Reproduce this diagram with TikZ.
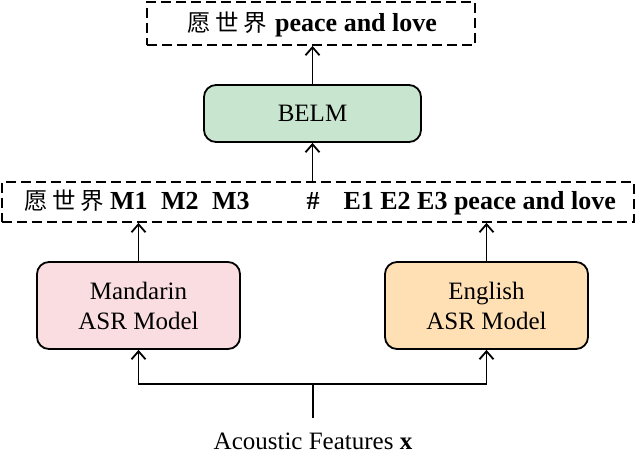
\documentclass[tikz,border=0pt]{standalone}
\usepackage{fontspec}
\setmainfont{Liberation Serif}
\newfontfamily\cjk{Noto Sans CJK SC}
\usetikzlibrary{arrows.meta}
\definecolor{pinkfill}{RGB}{250,221,225}
\definecolor{orangefill}{RGB}{255,224,180}
\definecolor{greenfill}{RGB}{200,230,207}
\tikzset{
  model/.style={draw=black, line width=1.8pt, rounded corners=12pt, align=center, inner sep=0pt, font=\fontsize{25}{30}\selectfont},
  dbox/.style={draw=black, line width=1.8pt, dash pattern=on 10pt off 5pt, inner sep=0pt},
  conn/.style={line width=1.8pt},
  arr/.style={line width=1.8pt, -{Straight Barb[length=8pt,width=14pt,line width=1.8pt]}},
  txt/.style={inner sep=0pt, anchor=base west, font=\fontsize{26}{30}\selectfont\bfseries},
  cj/.style={inner sep=0pt, anchor=base west, font=\fontsize{23.5}{30}\selectfont\cjk}
}
\begin{document}
\begin{tikzpicture}[x=1pt,y=-1pt]
\useasboundingbox (0,0) rectangle (637,464);
% boxes
\node[dbox, minimum width=328pt, minimum height=43pt] (top) at (311,23.5) {};
\node[model, fill=greenfill, minimum width=217pt, minimum height=57pt] (belm) at (312.5,113.5) {BELM};
\node[dbox, minimum width=632pt, minimum height=40pt] (mid) at (318,202) {};
\node[model, fill=pinkfill, minimum width=203pt, minimum height=87pt] (mand) at (138.5,305.5) {Mandarin\\ASR Model};
\node[model, fill=orangefill, minimum width=203pt, minimum height=87pt] (eng) at (486.5,305.5) {English\\ASR Model};
\node[inner sep=0pt, anchor=base, font=\fontsize{25}{30}\selectfont] (ac) at (313,449) {Acoustic Features \textbf{x}};
% top text
\node[cj] (tc1) at (187,31) {愿};
\node[cj] (tc2) at (215,31) {世};
\node[cj] (tc3) at (243,31) {界};
\node[txt] (tt) at (275,31) {peace and love};
% middle text
\node[cj] (mc1) at (24,209) {愿};
\node[cj] (mc2) at (52,209) {世};
\node[cj] (mc3) at (80,209) {界};
\node[txt] (m1) at (110,209) {M1};
\node[txt] (m2) at (161,209) {M2};
\node[txt] (m3) at (212,209) {M3};
\node[txt, anchor=base] (hash) at (313,209) {\#};
\node[txt, anchor=base east] (el) at (616,209) {E1 E2 E3 peace and love};
% connectors
\coordinate (j) at (313,384);
\coordinate (acc) at (313,418);
\draw[conn] (acc) -- (j);
\draw[arr] (j) -| (mand.south);
\draw[arr] (j) -| (eng.south);
\draw[arr] (mand.north) -- (mand.north |- mid.south);
\draw[arr] (eng.north) -- (eng.north |- mid.south);
\draw[arr] (mid.north -| belm.south) -- (belm.south);
\draw[arr] (belm.north) -- (belm.north |- top.south);
\end{tikzpicture}
\end{document}
